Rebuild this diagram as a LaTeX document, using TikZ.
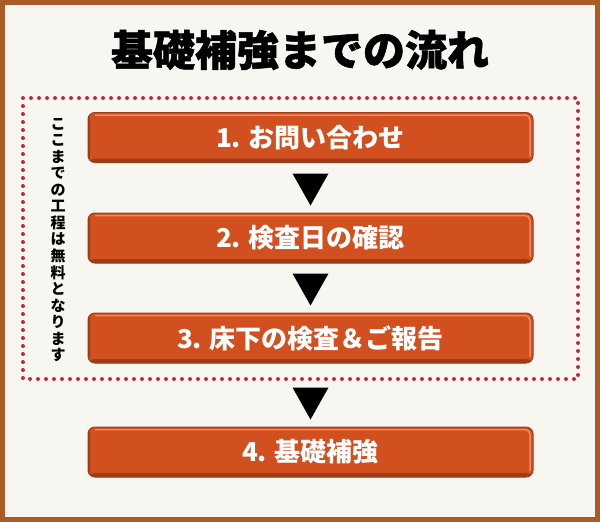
\documentclass[tikz,border=0pt]{standalone}
\usepackage{fontspec}
\setmainfont{Noto Sans CJK JP}
\newfontfamily\heavyfont{Noto Sans CJK JP}[BoldFeatures={FakeBold=1.2}]
\usepackage{tikz}
\usetikzlibrary{calc}
\definecolor{framebrown}{RGB}{171,92,38}
\definecolor{paper}{RGB}{247,246,241}
\definecolor{dotred}{RGB}{200,40,55}
\definecolor{boxmain}{RGB}{210,80,32}
\definecolor{boxedge}{RGB}{158,60,24}
\definecolor{boxlight}{RGB}{245,135,95}
\def\steparrow(#1){\fill[black] ($(#1.north)+(0,-7)$) -- ++(-18,-32) -- ++(36,0) -- cycle;}
\tikzset{
  stepbox/.style={rectangle, rounded corners=7pt, minimum width=445pt, minimum height=50pt,
    fill=boxmain, draw=boxedge, line width=1pt, text=white,
    font=\bfseries\fontsize{26}{26}\selectfont,
    path picture={
      \fill[boxedge] (path picture bounding box.south west) rectangle ([yshift=4pt]path picture bounding box.south east);
      \fill[boxedge] (path picture bounding box.south west) rectangle ([xshift=2pt]path picture bounding box.north west);
      \draw[boxlight, line width=1.5pt, rounded corners=5pt]
        ([shift={(-3pt,6pt)}]path picture bounding box.south east)
        -- ([shift={(-3pt,-2.5pt)}]path picture bounding box.north east)
        -- ([shift={(7pt,-2.5pt)}]path picture bounding box.north west);
    }},
  dotframe/.style={dotred, line width=4pt, line cap=round, dash pattern=on 0pt off 8pt},
  tatechar/.style={inner sep=0pt, font=\bfseries\fontsize{15}{15}\selectfont},
}

\begin{document}
\begin{tikzpicture}[x=1pt, y=-1pt]
			%%%%% START %%%%%

			\fill[framebrown] (0, 0) rectangle (600, 522);
			\fill[paper] (5, 5) rectangle (595, 517);

			\node[font=\heavyfont\bfseries\fontsize{42}{42}\selectfont] (title) at (300, 50) {基礎補強までの流れ};

			\draw[dotframe] (23, 98) rectangle (578, 379);

			\foreach \c [count=\i] in {こ,こ,ま,で,の,工,程,は,無,料,と,な,り,ま,す}
				\node[tatechar] (free\i) at (58, {124 + 16.5*(\i-1)}) {\c};

			\node[stepbox] (s1) at (310.5, 137.5) {1. お問い合わせ};
			\node[stepbox] (s2) at (310.5, 238) {2. 検査日の確認};
			\node[stepbox] (s3) at (310.5, 338) {3. 床下の検査＆ご報告};
			\node[stepbox] (s4) at (310.5, 452) {4. 基礎補強};

			\steparrow(s2)
			\steparrow(s3)
			\steparrow(s4)

			%%%%% END %%%%%
		\end{tikzpicture}
\end{document}
